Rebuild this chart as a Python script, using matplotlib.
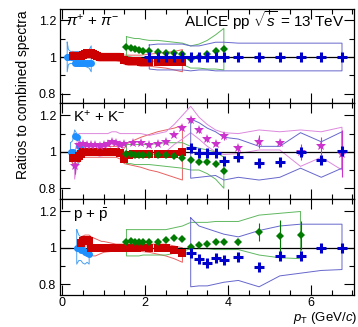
import numpy as np
import matplotlib
matplotlib.use("Agg")
import matplotlib.pyplot as plt
from matplotlib.ticker import MultipleLocator, FixedLocator, FixedFormatter

plt.rcParams['font.family'] = ['Liberation Sans', 'DejaVu Sans']
plt.rcParams['mathtext.fontset'] = 'custom'
plt.rcParams['mathtext.rm'] = 'Liberation Sans'
plt.rcParams['mathtext.it'] = 'Liberation Sans:italic'
plt.rcParams['mathtext.bf'] = 'Liberation Sans:bold'

# colours (marker, band outline)
c_its = ('#1e8fff', '#4aa0f0')
c_tpc = ('#cc0000', '#e86060')
c_tof = ('#007a00', '#60b860')
c_kink = ('#cc33cc', '#dd88dd')
c_rr = ('#0000cc', '#6666cc')

# ---------------- pions ----------------
pi_its_pt = [0.12, 0.15, 0.2, 0.25, 0.3, 0.35, 0.4, 0.45, 0.5, 0.55, 0.6, 0.65, 0.7]
pi_its_val = [1.0, 1.0, 1.0, 1.0, 0.97, 0.97, 0.968, 0.968, 0.968, 0.968, 0.968, 0.968, 0.97]
pi_its_up = [1.08, 1.04, 1.03, 1.03, 1.03, 1.03, 1.03, 1.03, 1.03, 1.03, 1.035, 1.04, 1.06]
pi_its_lo = [0.92, 0.96, 0.965, 0.965, 0.955, 0.95, 0.95, 0.95, 0.95, 0.95, 0.945, 0.94, 0.92]

pi_tpc_pt = [0.25, 0.3, 0.35, 0.4, 0.45, 0.5, 0.55, 0.6, 0.65, 0.7, 0.75, 0.8, 0.85, 0.9, 0.95,
             1.0, 1.1, 1.2, 1.3, 1.4, 1.5, 1.6, 1.7, 1.8, 1.9, 2.1, 2.3, 2.5, 2.7, 2.9]
pi_tpc_val = [1.005, 1.005, 1.005, 1.005, 1.005, 1.01, 1.015, 1.02, 1.02, 1.02, 1.015, 1.01, 1.005, 1.0, 1.0,
              1.0, 1.0, 1.0, 1.0, 1.0, 0.985, 0.98, 0.98, 0.98, 0.975, 0.972, 0.972, 0.972, 0.972, 0.975]
pi_tpc_up = [1.03, 1.025, 1.025, 1.025, 1.025, 1.03, 1.035, 1.04, 1.04, 1.04, 1.035, 1.03, 1.025, 1.02, 1.02,
             1.02, 1.02, 1.02, 1.02, 1.02, 1.01, 1.01, 1.01, 1.01, 1.01, 1.015, 1.02, 1.025, 1.03, 1.04]
pi_tpc_lo = [0.98, 0.985, 0.985, 0.985, 0.985, 0.99, 0.995, 0.995, 0.995, 0.995, 0.99, 0.985, 0.98, 0.978, 0.978,
             0.978, 0.978, 0.978, 0.978, 0.975, 0.96, 0.955, 0.955, 0.955, 0.95, 0.95, 0.945, 0.94, 0.93, 0.92]

pi_tof_pt = [1.55, 1.65, 1.75, 1.85, 1.95, 2.1, 2.3, 2.5, 2.7, 2.9, 3.1, 3.3, 3.5, 3.7, 3.9]
pi_tof_val = [1.055, 1.05, 1.045, 1.04, 1.035, 1.03, 1.025, 1.02, 1.02, 1.015, 0.99, 1.0, 1.015, 1.03, 1.045]
pi_tof_up = [1.11, 1.105, 1.1, 1.1, 1.095, 1.09, 1.09, 1.085, 1.08, 1.075, 1.06, 1.07, 1.09, 1.12, 1.155]
pi_tof_lo = [1.005, 1.0, 0.995, 0.99, 0.985, 0.98, 0.975, 0.97, 0.965, 0.96, 0.94, 0.94, 0.935, 0.935, 0.93]

pi_rr_pt = [2.1, 2.3, 2.5, 2.7, 2.9, 3.1, 3.3, 3.5, 3.7, 3.9, 4.25, 4.75, 5.25, 5.75, 6.25, 6.75]
pi_rr_val = [1.0, 1.0, 1.0, 1.0, 1.0, 1.0, 0.998, 1.0, 1.0, 0.998, 1.0, 1.0, 1.0, 1.0, 1.0, 1.0]
pi_rr_up = [1.065, 1.07, 1.07, 1.07, 1.07, 1.06, 1.06, 1.07, 1.08, 1.08, 1.075, 1.075, 1.075, 1.075, 1.075, 1.075]
pi_rr_lo = [0.935, 0.93, 0.93, 0.93, 0.93, 0.925, 0.93, 0.93, 0.925, 0.925, 0.925, 0.925, 0.925, 0.925, 0.925, 0.925]

# ---------------- kaons ----------------
k_its_pt = [0.2, 0.25, 0.3, 0.35, 0.4, 0.45]
k_its_val = [1.0, 1.0, 1.085, 1.08, 1.03, 1.015]
k_its_up = [1.05, 1.06, 1.12, 1.1, 1.07, 1.05]
k_its_lo = [0.95, 0.94, 0.9, 0.92, 0.94, 0.95]

k_tpc_pt = pi_tpc_pt
k_tpc_val = [0.965, 0.965, 0.965, 0.975, 0.99, 1.0, 1.0, 1.0, 1.0, 1.0, 1.0, 1.0, 1.0, 1.0, 1.0,
             1.0, 1.0, 1.0, 1.0, 0.995, 0.96, 0.985, 0.99, 0.99, 0.99, 0.99, 0.99, 0.99, 0.99, 1.0]
k_tpc_up = [0.995, 0.995, 0.995, 1.005, 1.02, 1.03, 1.03, 1.03, 1.03, 1.03, 1.03, 1.03, 1.03, 1.03, 1.03,
            1.03, 1.03, 1.03, 1.03, 1.03, 1.02, 1.05, 1.06, 1.07, 1.08, 1.095, 1.11, 1.12, 1.13, 1.145]
k_tpc_lo = [0.935, 0.935, 0.935, 0.945, 0.96, 0.97, 0.97, 0.97, 0.97, 0.97, 0.97, 0.97, 0.97, 0.97, 0.97,
            0.97, 0.97, 0.97, 0.97, 0.96, 0.935, 0.93, 0.925, 0.92, 0.915, 0.9, 0.89, 0.875, 0.86, 0.845]

k_tof_pt = pi_tof_pt
k_tof_val = [0.99, 0.99, 0.985, 0.985, 0.985, 0.985, 0.985, 0.98, 0.975, 0.967, 0.955, 0.945, 0.945, 0.935, 0.895]
k_tof_up = [1.04, 1.04, 1.04, 1.04, 1.04, 1.04, 1.045, 1.05, 1.05, 1.05, 1.03, 1.02, 1.01, 1.0, 0.97]
k_tof_lo = [0.935, 0.935, 0.93, 0.93, 0.93, 0.93, 0.925, 0.92, 0.915, 0.91, 0.9, 0.9, 0.88, 0.85, 0.8]

k_kink_pt = [0.3, 0.4, 0.5, 0.6, 0.7, 0.8, 0.9, 1.0, 1.1, 1.2, 1.3, 1.4, 1.5, 1.7, 1.9,
             2.1, 2.3, 2.5, 2.7, 2.9, 3.1, 3.3, 3.5, 3.7, 3.9, 4.25, 4.75, 5.25, 5.75, 6.25, 6.75]
k_kink_val = [0.92, 1.04, 1.045, 1.04, 1.035, 1.04, 1.03, 1.035, 1.045, 1.055, 1.05, 1.04, 1.045, 1.05, 1.05,
              1.035, 1.045, 1.055, 1.095, 1.13, 1.175, 1.12, 1.07, 1.045, 1.085, 1.02, 1.055, 1.05, 1.0, 1.03, 0.99]
k_kink_err = [0.04, 0.01, 0.01, 0.01, 0.01, 0.01, 0.01, 0.01, 0.01, 0.01, 0.01, 0.01, 0.01, 0.01, 0.01,
              0.01, 0.01, 0.01, 0.01, 0.01, 0.015, 0.015, 0.015, 0.015, 0.02, 0.02, 0.035, 0.02, 0.045, 0.05, 0.13]
k_kink_up = [0.99, 1.1, 1.1, 1.1, 1.1, 1.1, 1.1, 1.1, 1.1, 1.11, 1.11, 1.1, 1.1, 1.1, 1.1,
             1.09, 1.1, 1.11, 1.15, 1.2, 1.25, 1.19, 1.15, 1.12, 1.105, 1.1, 1.12, 1.11, 1.12, 1.11, 1.135]
k_kink_lo = [0.85, 0.99, 0.99, 0.985, 0.98, 0.985, 0.975, 0.98, 0.99, 1.0, 0.995, 0.985, 0.99, 0.995, 0.995,
             0.98, 0.99, 1.0, 1.04, 1.07, 1.105, 1.07, 1.03, 1.0, 0.985, 0.99, 1.01, 1.01, 0.92, 0.97, 0.9]

k_rr_pt = [3.1, 3.3, 3.5, 3.7, 3.9, 4.25, 4.75, 5.25, 5.75, 6.25, 6.75]
k_rr_val = [1.02, 0.995, 0.995, 0.995, 0.95, 0.97, 0.94, 0.945, 1.0, 0.955, 1.005]
k_rr_up = [1.18, 1.16, 1.13, 1.11, 1.08, 1.07, 1.03, 1.03, 1.105, 1.055, 1.11]
k_rr_lo = [0.855, 0.86, 0.865, 0.87, 0.845, 0.86, 0.845, 0.86, 0.91, 0.86, 0.91]

# ---------------- protons ----------------
p_its_pt = [0.35, 0.4, 0.45, 0.5, 0.55, 0.6, 0.65]
p_its_val = [1.0, 0.998, 0.99, 0.985, 0.975, 0.97, 0.965]
p_its_up = [1.1, 1.07, 1.06, 1.055, 1.05, 1.05, 1.06]
p_its_lo = [0.91, 0.93, 0.93, 0.915, 0.91, 0.92, 0.91]

p_tpc_pt = [0.45, 0.5, 0.55, 0.6, 0.65, 0.7, 0.75, 0.8, 0.85, 0.9, 0.95,
            1.0, 1.1, 1.2, 1.3, 1.4, 1.5, 1.6, 1.7, 1.8, 1.9, 2.1, 2.3, 2.5, 2.7, 2.9]
p_tpc_val = [1.025, 1.035, 1.045, 1.045, 1.04, 1.0, 1.0, 1.0, 1.0, 1.0, 1.0,
             1.0, 1.0, 1.0, 1.0, 1.0, 1.0, 1.0, 1.0, 1.0, 1.005, 1.0, 1.0, 1.0, 0.985, 0.97]
p_tpc_up = [1.06, 1.065, 1.07, 1.07, 1.07, 1.06, 1.055, 1.05, 1.045, 1.04, 1.035,
            1.035, 1.03, 1.025, 1.02, 1.02, 1.02, 1.02, 1.02, 1.02, 1.02, 1.02, 1.02, 1.02, 1.01, 1.0]
p_tpc_lo = [0.99, 1.0, 1.01, 1.01, 1.0, 0.96, 0.955, 0.955, 0.96, 0.965, 0.97,
            0.975, 0.978, 0.98, 0.98, 0.98, 0.98, 0.98, 0.98, 0.98, 0.98, 0.975, 0.965, 0.955, 0.94, 0.92]

p_tof_pt = [1.55, 1.65, 1.75, 1.85, 1.95, 2.1, 2.3, 2.5, 2.7, 2.9, 3.1, 3.3, 3.5, 3.7, 3.9,
            4.25, 4.75, 5.25, 5.75]
p_tof_val = [1.03, 1.035, 1.03, 1.03, 1.03, 1.03, 1.03, 1.045, 1.055, 1.05, 1.005, 1.015, 1.02, 1.03, 1.03,
             1.03, 1.085, 1.065, 1.07]
p_tof_err = [0.005, 0.005, 0.005, 0.005, 0.005, 0.005, 0.005, 0.005, 0.005, 0.005, 0.005, 0.005, 0.008, 0.01, 0.01,
             0.015, 0.05, 0.09, 0.08]
p_tof_up = [1.1, 1.1, 1.1, 1.1, 1.1, 1.1, 1.1, 1.1, 1.11, 1.12, 1.14, 1.14, 1.14, 1.145, 1.145,
            1.145, 1.18, 1.19, 1.2]
p_tof_lo = [0.955, 0.955, 0.955, 0.955, 0.96, 0.96, 0.96, 0.96, 0.97, 0.98, 0.995, 0.995, 0.995, 0.99, 0.99,
            0.99, 0.96, 0.945, 0.94]

p_rr_pt = k_rr_pt
p_rr_val = [0.97, 0.94, 0.915, 0.945, 0.93, 0.95, 0.895, 0.955, 0.955, 1.0, 1.0]
p_rr_up = [1.165, 1.12, 1.105, 1.09, 1.075, 1.06, 1.095, 1.12, 1.13, 1.13, 1.13]
p_rr_lo = [0.785, 0.79, 0.79, 0.8, 0.81, 0.82, 0.785, 0.845, 0.86, 0.875, 0.88]


def band(ax, pt, up, lo, color):
    xs = list(pt) + list(pt[::-1]) + [pt[0]]
    ys = list(up) + list(lo[::-1]) + [up[0]]
    ax.plot(xs, ys, color=color, lw=0.7, zorder=2)


def points(ax, pt, val, color, marker, ms, err=None, z=4, mew=0):
    ax.errorbar(pt, val, yerr=err, fmt=marker, color=color, ms=ms, mew=mew,
                elinewidth=0.8, capsize=0, zorder=z)


def crosses(ax, pt, val):
    points(ax, pt, val, c_rr[0], '+', 6.5, z=5, mew=2.2)


fig = plt.figure(figsize=(3.58, 3.27), dpi=100)
ax_pi = fig.add_axes([0.168, 0.685, 0.822, 0.287])
ax_k = fig.add_axes([0.168, 0.391, 0.822, 0.294])
ax_p = fig.add_axes([0.168, 0.098, 0.822, 0.293])

for ax in (ax_pi, ax_k, ax_p):
    ax.set_xlim(-0.05, 7.05)
    ax.axhline(1.0, color='black', lw=0.9, zorder=3)
    ax.xaxis.set_major_locator(MultipleLocator(2))
    ax.xaxis.set_minor_locator(MultipleLocator(0.5))
    ax.yaxis.set_major_locator(FixedLocator([0.8, 1.0, 1.2]))
    ax.yaxis.set_major_formatter(FixedFormatter(['0.8', '1', '1.2']))
    ax.yaxis.set_minor_locator(MultipleLocator(0.1))
    ax.tick_params(which='both', direction='in', top=True, right=True, labelsize=9, pad=3)
    ax.tick_params(axis='x', which='major', pad=1.5)
    ax.tick_params(which='major', length=7, width=0.8)
    ax.tick_params(which='minor', length=3.5, width=0.8)
    for s in ax.spines.values():
        s.set_linewidth(0.9)

ax_pi.set_ylim(0.751, 1.259)
ax_k.set_ylim(0.74, 1.268)
ax_p.set_ylim(0.74, 1.268)
ax_pi.tick_params(labelbottom=False)
ax_k.tick_params(labelbottom=False)

# pions
band(ax_pi, pi_its_pt, pi_its_up, pi_its_lo, c_its[1])
band(ax_pi, pi_tpc_pt, pi_tpc_up, pi_tpc_lo, c_tpc[1])
band(ax_pi, pi_tof_pt, pi_tof_up, pi_tof_lo, c_tof[1])
band(ax_pi, pi_rr_pt, pi_rr_up, pi_rr_lo, c_rr[1])
points(ax_pi, pi_its_pt, pi_its_val, c_its[0], 'o', 5)
points(ax_pi, pi_tpc_pt, pi_tpc_val, c_tpc[0], 's', 5.2)
points(ax_pi, pi_tof_pt, pi_tof_val, c_tof[0], 'D', 4.3)
crosses(ax_pi, pi_rr_pt, pi_rr_val)

# kaons
band(ax_k, k_its_pt, k_its_up, k_its_lo, c_its[1])
band(ax_k, k_tpc_pt, k_tpc_up, k_tpc_lo, c_tpc[1])
band(ax_k, k_tof_pt, k_tof_up, k_tof_lo, c_tof[1])
band(ax_k, k_kink_pt, k_kink_up, k_kink_lo, c_kink[1])
band(ax_k, k_rr_pt, k_rr_up, k_rr_lo, c_rr[1])
points(ax_k, k_its_pt, k_its_val, c_its[0], 'o', 5)
points(ax_k, k_tpc_pt, k_tpc_val, c_tpc[0], 's', 5.2)
points(ax_k, k_tof_pt, k_tof_val, c_tof[0], 'D', 4.3)
points(ax_k, k_kink_pt, k_kink_val, c_kink[0], '*', 7, err=k_kink_err)
crosses(ax_k, k_rr_pt, k_rr_val)

# protons
band(ax_p, p_its_pt, p_its_up, p_its_lo, c_its[1])
band(ax_p, p_tpc_pt, p_tpc_up, p_tpc_lo, c_tpc[1])
band(ax_p, p_tof_pt, p_tof_up, p_tof_lo, c_tof[1])
band(ax_p, p_rr_pt, p_rr_up, p_rr_lo, c_rr[1])
points(ax_p, p_its_pt, p_its_val, c_its[0], 'o', 5)
points(ax_p, p_tpc_pt, p_tpc_val, c_tpc[0], 's', 5.2)
points(ax_p, p_tof_pt, p_tof_val, c_tof[0], 'D', 4.3, err=p_tof_err)
crosses(ax_p, p_rr_pt, p_rr_val)

ax_pi.text(0.02, 0.88, r'$\pi^{+}$ + $\pi^{-}$', transform=ax_pi.transAxes,
           fontsize=11, va='center', ha='left')
ax_pi.text(0.966, 0.88, r'ALICE pp $\sqrt{s}$ = 13 TeV', transform=ax_pi.transAxes,
           fontsize=11, va='center', ha='right')
ax_k.text(0.044, 0.855, r'K$^{+}$ + K$^{-}$', transform=ax_k.transAxes,
          fontsize=11, va='center', ha='left')
ax_p.text(0.044, 0.835, r'p + $\bar{\mathrm{p}}$', transform=ax_p.transAxes,
          fontsize=11, va='center', ha='left')

fig.text(0.065, 1 - 95 / 327, 'Ratios to combined spectra', rotation=90,
         fontsize=10, va='center', ha='center')
fig.text(0.998, 0.002, r'$p_{\mathrm{T}}$ (GeV/$c$)', fontsize=9.5, ha='right', va='bottom')

fig.savefig('out.png', dpi=100)
